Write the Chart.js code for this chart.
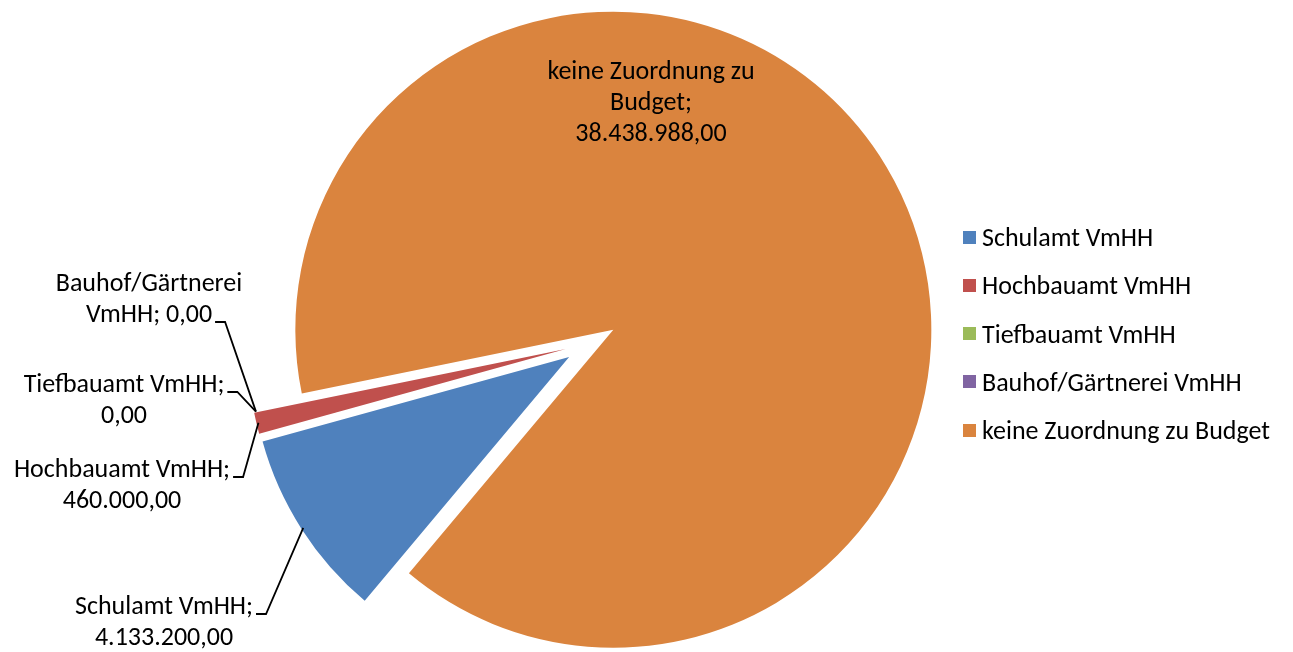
<!DOCTYPE html>
<html lang="de">
<head>
<meta charset="UTF-8">
<title>Budget VmHH</title>
<script src="https://cdn.jsdelivr.net/npm/chart.js@4.4.1/dist/chart.umd.min.js"></script>
<style>
  html, body { margin: 0; padding: 0; background: #fff; }
  #wrap { position: relative; width: 1293px; height: 652px; }
  #legend { position: absolute; left: 0; top: 0; font-family: Carlito, Lato, sans-serif; font-size: 26px; color: #000; }
  .item { position: absolute; left: 963px; height: 40px; display: flex; align-items: center; white-space: nowrap; }
  .box { width: 13px; height: 13px; margin-right: 6px; }
</style>
</head>
<body>
<div id="wrap">
  <canvas id="pie" width="1293" height="652"></canvas>
  <div id="legend"></div>
</div>

<script>

var categories = ['Schulamt VmHH', 'Hochbauamt VmHH', 'Tiefbauamt VmHH', 'Bauhof/Gärtnerei VmHH', 'keine Zuordnung zu Budget'];
var values = [4133200, 460000, 0, 0, 38438988];
var colors = ['#4F81BD', '#C0504D', '#9BBB59', '#8064A2', '#DA843E'];

// where the data label text wraps (after which word)
var labelBreaks = [[2], [2], [2], [1], [3, 4]];

// label placement (centre x, first line y), which line gets the leader
var labelPos = [
  { x: 164, y: 607, lead: 0 },
  { x: 122, y: 470, lead: 0 },
  { x: 124, y: 385, lead: 0 },
  { x: 149, y: 284, lead: 1 },
  { x: 651, y: 72, lead: -1 }
];
var lineH = 31;
var explode = 26;
var font = '26px Carlito, Lato, sans-serif';

function fmtDE(v) {
  var s = v.toFixed(2).split('.');
  return s[0].replace(/\B(?=(\d{3})+(?!\d))/g, '.') + ',' + s[1];
}

function labelLines(i) {
  var words = (categories[i] + '; ' + fmtDE(values[i])).split(' ');
  var lines = [], cur = [];
  words.forEach(function (w, k) {
    cur.push(w);
    if (labelBreaks[i].indexOf(k + 1) >= 0) { lines.push(cur.join(' ')); cur = []; }
  });
  if (cur.length) lines.push(cur.join(' '));
  return lines;
}

// pull every slice out from the centre (Excel style exploded pie)
var explodePlugin = {
  id: 'explode',
  beforeDatasetDraw: function (chart, args) {
    var c = chart.ctx;
    args.meta.data.forEach(function (arc) {
      var mid = (arc.startAngle + arc.endAngle) / 2;
      c.save();
      c.translate(Math.cos(mid) * explode, Math.sin(mid) * explode);
      arc.draw(c);
      c.restore();
    });
    return false;
  }
};

var labelPlugin = {
  id: 'sliceLabels',
  afterDatasetsDraw: function (chart) {
    var c = chart.ctx;
    var arcs = chart.getDatasetMeta(0).data;
    c.save();
    c.font = font;
    c.fillStyle = '#000';
    c.strokeStyle = '#000';
    c.lineWidth = 1.8;
    c.textAlign = 'center';
    c.textBaseline = 'middle';
    arcs.forEach(function (arc, i) {
      var p = labelPos[i];
      var lines = labelLines(i);
      lines.forEach(function (t, k) {
        c.fillText(t, p.x, p.y + k * lineH);
      });
      if (p.lead < 0) return;
      var mid = (arc.startAngle + arc.endAngle) / 2;
      var r = arc.outerRadius + explode - 2;
      var ax = arc.x + Math.cos(mid) * r;
      var ay = arc.y + Math.sin(mid) * r;
      var w = c.measureText(lines[p.lead]).width;
      var sx = p.x + w / 2 + 3;
      var sy = p.y + p.lead * lineH + 7;
      c.beginPath();
      c.moveTo(sx, sy);
      c.lineTo(sx + 10, sy);
      c.lineTo(ax, ay);
      c.stroke();
    });
    c.restore();
  }
};

var pie_ctx = document.getElementById('pie').getContext('2d');

var pie_chart = new Chart(pie_ctx, {
  type: 'pie',
  data: {
    labels: categories,
    datasets: [{
      data: values,
      backgroundColor: colors,
      borderWidth: 0,
      rotation: 220,
      radius: 318
    }]
  },
  options: {
    responsive: false,
    animation: false,
    layout: { padding: { left: 0, right: 111, top: 34, bottom: 0 } },
    plugins: {
      legend: { display: false },
      tooltip: { enabled: false }
    }
  },
  plugins: [explodePlugin, labelPlugin]
});

// legend on the right
var legend = document.getElementById('legend');
categories.forEach(function (name, i) {
  var item = document.createElement('div');
  item.className = 'item';
  item.style.top = (237 + i * 48.3 - 20) + 'px';
  var box = document.createElement('span');
  box.className = 'box';
  box.style.background = colors[i];
  item.appendChild(box);
  item.appendChild(document.createTextNode(name));
  legend.appendChild(item);
});

</script>
</body>
</html>
